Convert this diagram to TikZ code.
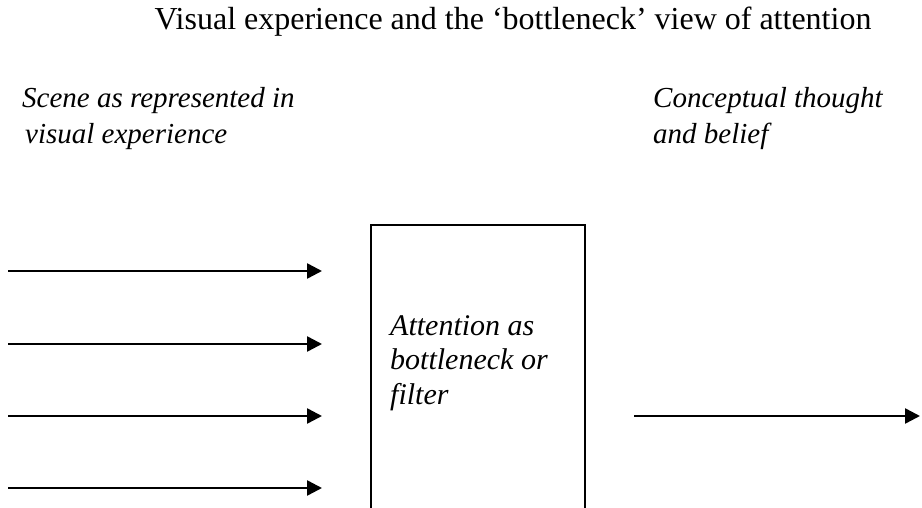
\documentclass[tikz,border=0pt]{standalone}
\usepackage{fontspec}
\setmainfont{Liberation Serif}
\usetikzlibrary{arrows.meta}
\begin{document}
\begin{tikzpicture}[x=1pt,y=-1pt,
  flow/.style={line width=2.5pt,-{Triangle[length=15pt,width=15pt]}},
  stage/.style={draw,line width=2pt,minimum width=214pt,minimum height=320pt,anchor=north west,inner sep=0pt},
  heading/.style={font=\fontsize{32}{36}\selectfont,anchor=base,inner sep=0pt},
  caption/.style={font=\fontsize{29}{36.5}\selectfont\itshape,align=left,anchor=base west,inner sep=0pt},
  boxtext/.style={font=\fontsize{30}{34.5}\selectfont\itshape,align=left,anchor=base west,inner sep=0pt}]
  \useasboundingbox (0,0) rectangle (922,508);
  \clip (0,0) rectangle (922,508);

  % heading
  \node[heading] (title) at (513,30) {Visual experience and the ‘bottleneck’ view of attention};

  % side captions (base anchor sits on the last line)
  \node[caption] (scene) at (22,144) {Scene as represented in\\\hspace*{3pt}visual experience};
  \node[caption] (thought) at (653,144) {Conceptual thought\\and belief};

  % the bottleneck stage, running past the lower edge
  \node[stage] (filter) at (370,224) {};
  \node[boxtext] (filtertext) at (390,404) {Attention as\\bottleneck or\\filter};

  % incoming streams
  \coordinate (s1) at (8,271);
  \coordinate (s2) at (8,344);
  \coordinate (s3) at (8,416);
  \coordinate (s4) at (8,488);
  \foreach \s in {s1,s2,s3,s4}
    \draw[flow,shorten >=48pt] (\s) -- (\s -| filter.west);

  % outgoing stream
  \coordinate (out) at (920,416);
  \draw[flow,shorten <=48pt] (out -| filter.east) -- (out);
\end{tikzpicture}
\end{document}
